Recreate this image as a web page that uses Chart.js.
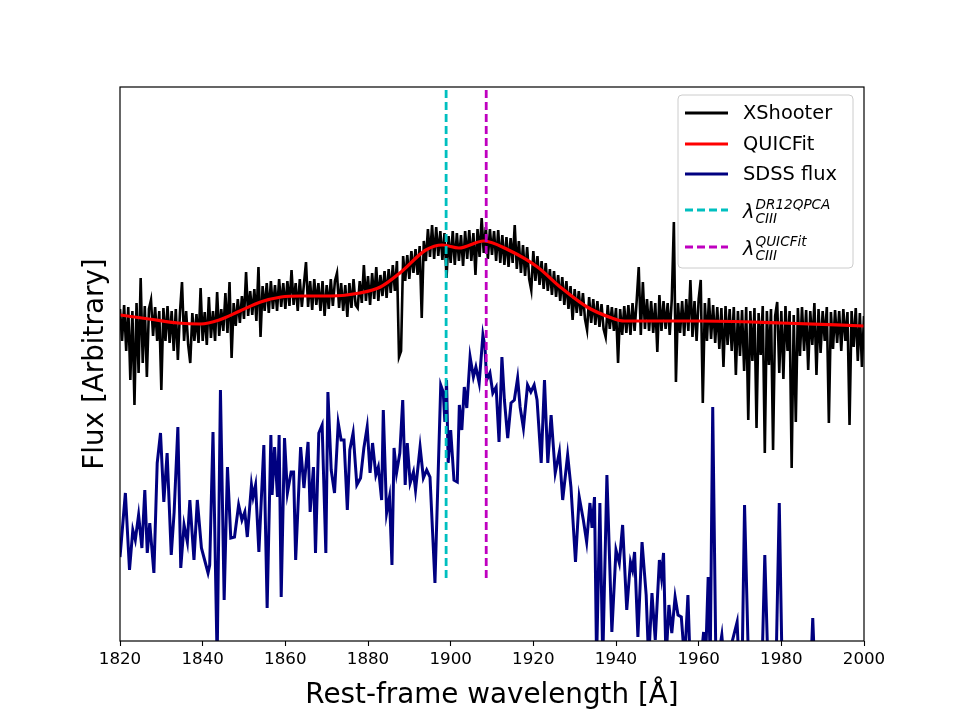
<!DOCTYPE html>
<html>
    <head>
        <meta charset="utf-8">
        <title>CIII] region</title>
        <script src="https://cdn.jsdelivr.net/npm/chart.js@4.4.0/dist/chart.umd.min.js"></script>
        <style>
            body { margin: 0; background: #fff; }
        </style>
    </head>
    <body>
        <canvas id="chart" width="960" height="720"></canvas>

        <script>
            // x tick labels
            const xTickValues = [1820, 1840, 1860, 1880, 1900, 1920, 1940, 1960, 1980, 2000]

            // XShooter spectrum, sampled every 0.5 A from 1820 A (arbitrary flux units)
            const xsStart = 1820
            const xsStep = 0.5
            const xshooterFlux = [
                332, 300, 336, 290, 334, 261, 330, 236, 338, 268,
                363, 278, 335, 264, 332, 341, 305, 334, 300, 330,
                251, 333, 300, 335, 298, 330, 290, 332, 281, 328,
                359, 300, 330, 296, 278, 328, 300, 327, 298, 353,
                300, 329, 296, 344, 303, 330, 300, 349, 305, 332,
                310, 348, 308, 359, 283, 338, 315, 342, 318, 345,
                322, 369, 325, 350, 326, 352, 320, 374, 304, 355,
                330, 358, 328, 360, 332, 356, 330, 362, 334, 358,
                332, 360, 335, 371, 336, 358, 330, 362, 334, 357,
                379, 334, 360, 331, 362, 336, 358, 330, 360, 325,
                356, 332, 362, 335, 360, 368, 333, 358, 330, 356,
                324, 358, 333, 362, 336, 333, 360, 338, 376, 340,
                365, 336, 368, 342, 374, 340, 366, 345, 370, 343,
                372, 348, 376, 350, 380, 284, 290, 385, 360, 386,
                362, 390, 368, 392, 366, 395, 323, 400, 380, 412,
                384, 416, 382, 414, 385, 410, 381, 408, 363, 405,
                378, 410, 376, 408, 380, 406, 375, 410, 382, 411,
                380, 408, 366, 412, 384, 423, 388, 414, 382, 412,
                386, 410, 380, 411, 378, 406, 376, 404, 374, 403,
                378, 416, 372, 400, 368, 396, 365, 394, 362, 351,
                390, 360, 385, 356, 380, 352, 378, 350, 372, 346,
                370, 344, 366, 340, 364, 336, 360, 332, 355, 321,
                352, 328, 350, 325, 348, 322, 311, 344, 318, 342,
                316, 340, 314, 337, 312, 304, 336, 312, 334, 310,
                333, 278, 332, 306, 335, 308, 336, 306, 338, 310,
                340, 374, 306, 359, 312, 342, 310, 340, 308, 338,
                289, 346, 310, 340, 312, 338, 306, 342, 419, 259,
                338, 308, 340, 305, 342, 310, 361, 304, 340, 300,
                342, 361, 238, 338, 300, 343, 302, 336, 298, 334,
                292, 333, 274, 335, 296, 332, 290, 334, 266, 330,
                285, 331, 270, 334, 221, 330, 280, 333, 213, 328,
                286, 335, 188, 330, 276, 332, 191, 325, 339, 268,
                330, 262, 335, 290, 330, 173, 326, 219, 333, 285,
                334, 290, 331, 271, 330, 296, 338, 266, 332, 288,
                330, 300, 334, 218, 329, 292, 331, 298, 330, 290,
                332, 300, 329, 216, 330, 294, 333, 280, 328, 274,
                325
            ]

            // QUICFit model
            const quicWave = [1820, 1827, 1834, 1839.5, 1844, 1849, 1854, 1859, 1864, 1871, 1878, 1883, 1888,
                1894, 1898, 1902, 1908, 1914, 1921, 1926.5, 1933, 1939, 1942, 1946, 1960, 1980, 2000]
            const quicFlux = [326, 322, 318, 317, 321, 330, 339, 344, 345, 345, 348, 354, 369,
                391, 396, 393, 400, 391, 374, 354, 334, 323, 320, 320, 320, 318, 315]

            // SDSS spectrum (vertices)
            const sdssWave = [
                1820.0, 1821.3, 1822.3, 1823.1, 1823.7, 1824.5, 1825.3, 1826.0, 1826.6, 1827.2,
                1828.2, 1829.0, 1829.8, 1830.6, 1831.4, 1832.4, 1833.1, 1834.0, 1834.7, 1835.5,
                1836.3, 1836.9, 1837.9, 1838.7, 1839.7, 1840.6, 1841.3, 1841.7, 1842.5, 1843.5,
                1844.3, 1845.2, 1846.0, 1846.8, 1847.7, 1848.7, 1849.5, 1850.2, 1850.8, 1851.8,
                1852.2, 1852.8, 1853.6, 1854.8, 1855.6, 1856.5, 1856.8, 1857.4, 1858.1, 1858.5,
                1859.0, 1859.8, 1860.5, 1861.4, 1862.0, 1862.5, 1863.7, 1864.5, 1865.5, 1866.0,
                1866.8, 1867.3, 1868.1, 1868.9, 1869.8, 1870.3, 1871.1, 1871.9, 1872.8, 1873.5,
                1874.2, 1875.0, 1875.6, 1876.4, 1877.3, 1878.2, 1879.0, 1879.8, 1880.5, 1881.1,
                1881.9, 1882.5, 1883.3, 1883.7, 1884.5, 1885.2, 1885.8, 1886.3, 1886.9, 1887.7,
                1888.4, 1889.0, 1889.5, 1890.2, 1891.0, 1891.5, 1892.6, 1893.4, 1894.2, 1895.0,
                1896.2, 1897.6, 1898.2, 1898.6, 1899.0, 1899.4, 1900.0, 1900.8, 1901.6, 1902.1,
                1902.7, 1903.3, 1903.9, 1904.7, 1905.5, 1906.1, 1906.9, 1907.8, 1908.3, 1908.7,
                1909.5, 1910.2, 1911.0, 1911.7, 1912.4, 1913.0, 1913.8, 1914.6, 1915.4, 1916.2,
                1916.8, 1917.6, 1918.6, 1919.4, 1920.2, 1920.9, 1921.9, 1922.7, 1923.5, 1924.3,
                1925.3, 1926.3, 1927.1, 1928.3, 1929.1, 1930.2, 1931.1, 1932.1, 1932.9, 1933.7,
                1934.2, 1934.8, 1935.3, 1936.1, 1936.8, 1937.8, 1939.0, 1940.0, 1940.8, 1941.6,
                1942.6, 1943.5, 1944.0, 1944.5, 1945.3, 1946.3, 1947.3, 1947.9, 1948.7, 1949.5,
                1950.5, 1951.0, 1951.5, 1952.1, 1952.8, 1953.5, 1954.3, 1955.0, 1955.8, 1956.6,
                1957.4, 1958.0, 1960.3, 1961.2, 1961.6, 1962.3, 1962.8, 1963.4, 1964.2, 1965.6,
                1966.3, 1969.3, 1969.8, 1970.5, 1971.1, 1972.1, 1975.3, 1976.0, 1976.8, 1978.7,
                1979.5, 1980.2, 1987.2, 1987.6, 1988.0, 2000.0
            ]
            const sdssFlux = [
                84, 148, 71, 111, 101, 126, 93, 151, 88, 118,
                68, 178, 208, 139, 188, 86, 129, 214, 73, 116,
                99, 141, 81, 141, 93, 79, 68, 76, 209, -20,
                251, 41, 174, 103, 104, 136, 121, 129, 104, 156,
                144, 156, 89, 196, 33, 206, 146, 194, 144, 206,
                44, 203, 148, 169, 169, 81, 194, 153, 199, 129,
                174, 88, 208, 216, 88, 249, 171, 148, 218, 201,
                201, 131, 191, 208, 156, 163, 193, 214, 168, 198,
                166, 174, 141, 231, 128, 144, 76, 193, 168, 188,
                241, 156, 198, 158, 169, 151, 194, 163, 171, 164,
                58, 256, 249, 219, 261, 178, 211, 161, 159, 236,
                211, 254, 233, 284, 264, 274, 258, 306, 294, 261,
                268, 248, 254, 199, 284, 241, 203, 238, 241, 263,
                234, 213, 256, 249, 256, 241, 178, 261, 178, 226,
                168, 189, 141, 186, 154, 79, 144, 121, 99, 138,
                113, 144, -20, 138, -20, 166, 9, 91, 78, 116,
                31, 79, 71, 89, 4, 99, 46, -20, 48, 1,
                81, 64, 88, -20, 36, 8, 44, 26, 24, -20,
                46, -30, -30, 9, -30, 64, -20, 234, -30, 6,
                -30, 19, -30, -30, 136, -30, -30, 86, -30, -30,
                138, -30, -20, 23, -20, -40
            ]

            // line centroids
            const dr12Wave = 1898.9
            const quicfitWave = 1908.6
            const vlineFlux = [63, 554]

            const xshooterPts = xshooterFlux.map((v, i) => ({x: xsStart + i * xsStep, y: v}))
            const quicPts = quicWave.map((w, i) => ({x: w, y: quicFlux[i]}))
            const sdssPts = sdssWave.map((w, i) => ({x: w, y: sdssFlux[i]}))
            const dr12Pts = vlineFlux.map(v => ({x: dr12Wave, y: v}))
            const quicfitPts = vlineFlux.map(v => ({x: quicfitWave, y: v}))

            const FONT = 'DejaVu Sans'
            const CYAN = '#00bfbf'
            const MAGENTA = '#bf00bf'
            const NAVY = '#000080'
            const DASH = [8, 4]

            // frame + legend drawn by hand (matplotlib style)
            const framePlugin = {
                id: 'frame',
                afterDraw(chart) {
                    const {ctx, chartArea: a} = chart
                    ctx.save()
                    ctx.strokeStyle = '#000'
                    ctx.lineWidth = 1.2
                    ctx.strokeRect(a.left, a.top, a.right - a.left, a.bottom - a.top)

                    // legend box
                    const bx = 678, by = 95, bw = 175, bh = 173
                    ctx.beginPath()
                    ctx.roundRect(bx, by, bw, bh, 4)
                    ctx.fillStyle = 'rgba(255,255,255,0.8)'
                    ctx.fill()
                    ctx.strokeStyle = '#cccccc'
                    ctx.lineWidth = 1
                    ctx.stroke()

                    const rows = [
                        {y: 113, color: '#000', dash: [], label: 'XShooter'},
                        {y: 144, color: '#ff0000', dash: [], label: 'QUICFit'},
                        {y: 174, color: NAVY, dash: [], label: 'SDSS flux'},
                        {y: 210, color: CYAN, dash: DASH, sup: 'DR12QPCA'},
                        {y: 247, color: MAGENTA, dash: DASH, sup: 'QUICFit'}
                    ]
                    rows.forEach(r => {
                        ctx.beginPath()
                        ctx.setLineDash(r.dash)
                        ctx.strokeStyle = r.color
                        ctx.lineWidth = 2.9
                        ctx.moveTo(685, r.y)
                        ctx.lineTo(728, r.y)
                        ctx.stroke()
                        ctx.setLineDash([])
                        ctx.fillStyle = '#000'
                        if (r.label) {
                            ctx.font = '19.4px "' + FONT + '"'
                            ctx.textBaseline = 'middle'
                            ctx.fillText(r.label, 743, r.y + 1)
                        } else {
                            ctx.textBaseline = 'alphabetic'
                            ctx.font = 'italic 19.4px "' + FONT + '"'
                            ctx.fillText('λ', 743, r.y + 8)
                            const lw = ctx.measureText('λ').width
                            ctx.font = 'italic 13.6px "' + FONT + '"'
                            ctx.fillText(r.sup, 743 + lw + 1, r.y - 1)
                            ctx.fillText('CIII', 743 + lw + 1, r.y + 13)
                        }
                    })
                    ctx.restore()
                }
            }

            const ctx = document.getElementById('chart').getContext('2d')
            const myChart = new Chart(ctx, {
                type: 'line',
                data: {
                    datasets: [
                        {label: 'quicfit line', data: quicfitPts, borderColor: MAGENTA, borderWidth: 2.8, borderDash: DASH, pointRadius: 0},
                        {label: 'dr12 line', data: dr12Pts, borderColor: CYAN, borderWidth: 2.8, borderDash: DASH, pointRadius: 0},
                        {label: 'SDSS flux', data: sdssPts, borderColor: NAVY, borderWidth: 3, pointRadius: 0, tension: 0},
                        {label: 'QUICFit', data: quicPts, borderColor: '#ff0000', borderWidth: 3.2, pointRadius: 0, cubicInterpolationMode: 'monotone'},
                        {label: 'XShooter', data: xshooterPts, borderColor: '#000', borderWidth: 2.6, pointRadius: 0, tension: 0}
                    ]
                },
                options: {
                    responsive: false,
                    animation: false,
                    parsing: false,
                    layout: {padding: {top: 87, right: 96, left: 0, bottom: 0}},
                    plugins: {legend: {display: false}, tooltip: {enabled: false}},
                    scales: {
                        x: {
                            type: 'linear',
                            min: 1820,
                            max: 2000,
                            afterBuildTicks: s => { s.ticks = xTickValues.map(v => ({value: v})) },
                            afterFit: s => { s.height = 79 },
                            border: {display: false},
                            grid: {display: true, drawOnChartArea: false, drawTicks: true, tickLength: 5, color: '#000', tickWidth: 1.1},
                            ticks: {color: '#000', font: {family: FONT, size: 16.7}, padding: 4, maxRotation: 0, autoSkip: false,
                                callback: v => String(v)},
                            title: {display: true, text: 'Rest-frame wavelength [Å]', color: '#000', font: {family: FONT, size: 27.8}, padding: {top: 0, bottom: 8}}
                        },
                        y: {
                            min: 0,
                            max: 554,
                            afterFit: s => { s.width = 120 },
                            border: {display: false},
                            grid: {display: false},
                            ticks: {display: false},
                            title: {display: true, text: 'Flux [Arbitrary]', color: '#000', font: {family: FONT, size: 27.8}, padding: {top: 79, bottom: 0}}
                        }
                    }
                },
                plugins: [framePlugin]
            })
        </script>
    </body>
</html>
